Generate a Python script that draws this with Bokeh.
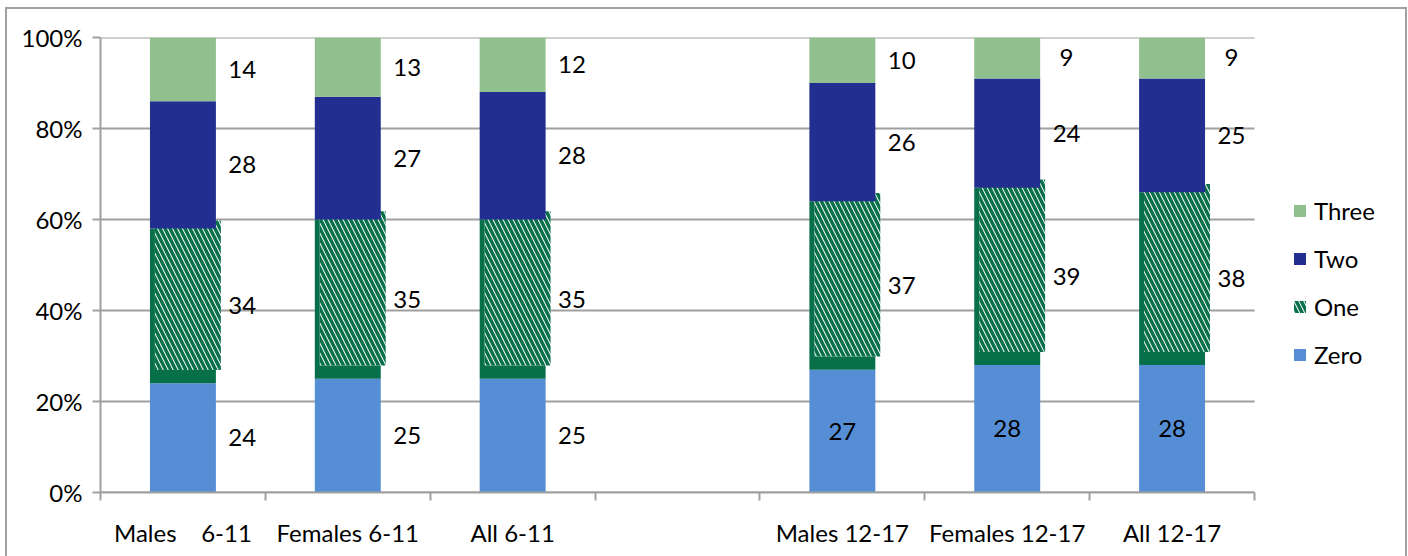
import numpy as np
import pandas as pd
from bokeh.plotting import figure
from bokeh.models import (Range1d, FixedTicker, ColumnDataSource, Legend, LegendItem,
                          PrintfTickFormatter)
from bokeh.core.properties import value
from bokeh.embed import file_html
from bokeh.resources import INLINE

# ---------------- data ----------------
categories = ["Males\u00a0\u00a0\u00a0 6-11", "Females 6-11", "All 6-11", "",
              "Males 12-17", "Females 12-17", "All 12-17"]
zero = [24, 25, 25, None, 27, 28, 28]
one = [34, 35, 35, None, 37, 39, 38]
two = [28, 27, 28, None, 26, 24, 25]
three = [14, 13, 12, None, 10, 9, 9]
y_ticks = [0, 20, 40, 60, 80, 100]
series = ["Zero", "One", "Two", "Three"]

# ---------------- styles ----------------
FONT = "Lato"
FS = "24px"
C_ZERO = "#558ED5"
C_ONE = "#07704A"
C_TWO = "#232E91"
C_THREE = "#8FC08E"
GRAY = "#A0A0A0"
BAR_W = 0.40
AXIS_PX = 1154      # pixel length of the category axis
FRAME_W = 1305      # frame includes legend area on the right

n = len(categories)
df = pd.DataFrame({"cat": categories, "Zero": zero, "One": one, "Two": two, "Three": three})
df["slot"] = np.arange(len(df))
df = df[df["cat"] != ""].copy()
df["x"] = df["slot"] + 0.5
df["b0"] = 0.0
df["t0"] = df["Zero"]
df["b1"] = df["t0"]
df["t1"] = df["b1"] + df["One"]
df["b2"] = df["t1"]
df["t2"] = df["b2"] + df["Two"]
df["b3"] = df["t2"]
df["t3"] = df["b3"] + df["Three"]
# hatched overlay of the "One" segment (slightly displaced, as in the original rendering)
df["hx"] = df["x"] + 0.03
df["hb"] = df["b1"] + 2.9
df["ht"] = df["t1"] + 1.8
src = ColumnDataSource(df)

p = figure(frame_width=FRAME_W, frame_height=455,
           x_range=Range1d(0, n * FRAME_W / AXIS_PX), y_range=Range1d(0, 100),
           output_backend="svg", toolbar_location=None, tools="",
           min_border_left=93, min_border_right=0, min_border_top=28, min_border_bottom=64)
p.margin = (7, 0, 0, 5)
p.styles = {"border-left": "2px solid #A0A0A0", "border-top": "2px solid #A0A0A0",
            "border-right": "2px solid #A0A0A0"}
p.outline_line_color = None
p.background_fill_color = "white"
p.border_fill_color = "white"

# horizontal gridlines limited to the category area
p.ygrid.grid_line_color = None
p.xgrid.grid_line_color = None
p.segment(x0=0, x1=n, y0=y_ticks, y1=y_ticks, line_color=GRAY, line_width=2)

r0 = p.vbar(x="x", width=BAR_W, bottom="b0", top="t0", source=src, fill_color=C_ZERO, line_color=None)
p.vbar(x="x", width=BAR_W, bottom="b1", top="t1", source=src, fill_color=C_ONE, line_color=None)
r1 = p.vbar(x="hx", width=BAR_W, bottom="hb", top="ht", source=src, fill_color="white", line_color=None,
            hatch_pattern="left_diagonal_line", hatch_color=C_ONE, hatch_scale=10, hatch_weight=3.5)
r2 = p.vbar(x="x", width=BAR_W, bottom="b2", top="t2", source=src, fill_color=C_TWO, line_color=None)
r3 = p.vbar(x="x", width=BAR_W, bottom="b3", top="t3", source=src, fill_color=C_THREE, line_color=None)

# data labels
lab_x, lab_y, lab_t = [], [], []
for _, row in df.iterrows():
    inside_zero = row["slot"] > 3
    for k, s in enumerate(series):
        b, t = row[f"b{k}"], row[f"t{k}"]
        if s == "Zero" and inside_zero:
            lab_x.append(row["x"])
        else:
            lab_x.append(row["x"] + 0.36)
        lab_y.append((b + t) / 2)
        lab_t.append(str(int(row[s])))
p.text(x=lab_x, y=lab_y, text=lab_t, text_font=value(FONT), text_font_size=value(FS),
       text_align="center", text_baseline="middle", text_color="black")

# axes
yax = p.yaxis[0]
yax.ticker = FixedTicker(ticks=y_ticks)
yax.formatter = PrintfTickFormatter(format="%d%%")
yax.axis_line_color = GRAY
yax.axis_line_width = 2
yax.major_tick_line_color = GRAY
yax.major_tick_line_width = 2
yax.major_tick_out = 8
yax.major_tick_in = 0
yax.minor_tick_line_color = None
yax.major_label_text_font = FONT
yax.major_label_text_font_size = FS
yax.major_label_text_color = "black"
yax.major_label_standoff = 10

xax = p.xaxis[0]
centers = [i + 0.5 for i in range(n)]
xax.bounds = (0, n)
xax.ticker = FixedTicker(ticks=centers, minor_ticks=list(range(n + 1)))
xax.major_label_overrides = {c: lab for c, lab in zip(centers, categories)}
xax.axis_line_color = GRAY
xax.axis_line_width = 2
xax.major_tick_line_color = None
xax.major_tick_out = 0
xax.major_tick_in = 0
xax.minor_tick_line_color = GRAY
xax.minor_tick_line_width = 2
xax.minor_tick_out = 8
xax.minor_tick_in = 0
xax.major_label_text_font = FONT
xax.major_label_text_font_size = FS
xax.major_label_text_color = "black"
xax.major_label_standoff = 17

legend = Legend(items=[LegendItem(label="Three", renderers=[r3]),
                       LegendItem(label="Two", renderers=[r2]),
                       LegendItem(label="One", renderers=[r1]),
                       LegendItem(label="Zero", renderers=[r0])],
                location=(AXIS_PX + 38, 123), margin=0, padding=5, spacing=19,
                glyph_width=15, glyph_height=15, label_standoff=7,
                label_text_font=FONT, label_text_font_size=FS, label_text_color="black",
                border_line_color=None, background_fill_alpha=0)
p.add_layout(legend, "center")

open("out.html", "w").write(file_html(p, INLINE))
